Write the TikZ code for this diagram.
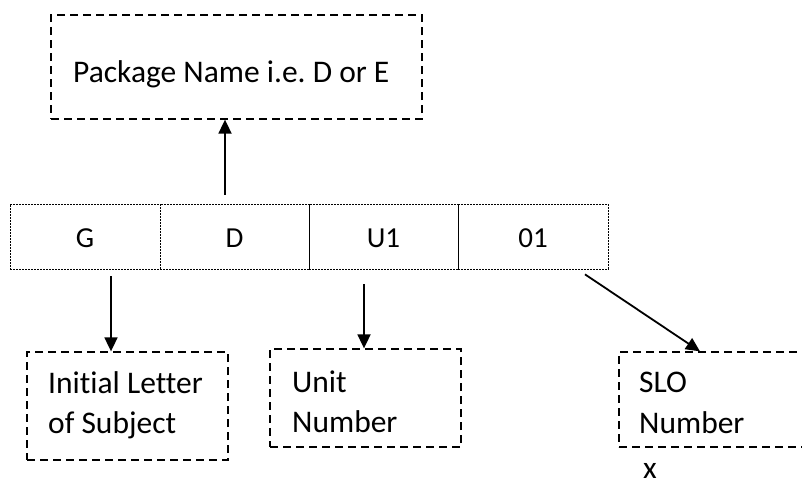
\documentclass[tikz,border=0pt]{standalone}
\usepackage{fontspec}
\setmainfont{Carlito}[Ligatures=NoCommon]
\usetikzlibrary{arrows.meta}
\frenchspacing
\begin{document}
\begin{tikzpicture}[x=1pt,y=-1pt]
\useasboundingbox (0,0) rectangle (802,479);
\clip (0,0) rectangle (802,479);
\tikzset{
 dbox/.style={draw, line width=1.3pt, dash pattern=on 8pt off 5pt, inner sep=0pt},
 cell/.style={draw, line width=0.7pt, dash pattern=on 2pt off 1pt, minimum height=65pt, inner sep=0pt, font=\fontsize{29}{34}\selectfont, text height=21pt, text depth=0pt},
 arr/.style={line width=1.8pt, -{Triangle[width=13pt,length=14pt]}},
 lbl/.style={inner sep=0pt, anchor=base west, font=\fontsize{31.5}{38}\selectfont}
}
% boxes
\node[dbox, minimum width=371pt, minimum height=104pt] (pkg) at (236.5,67) {};
\node[cell, minimum width=150pt] (cG) at (85,236.5) {G};
\node[cell, minimum width=149pt] (cD) at (234.5,236.5) {D};
\node[cell, minimum width=149pt] (cU) at (383.5,236.5) {U1};
\node[cell, minimum width=150pt] (cN) at (533,236.5) {01};
\node[dbox, minimum width=201pt, minimum height=108pt] (b1) at (127.5,406) {};
\node[dbox, minimum width=191pt, minimum height=98pt] (b2) at (365.5,398) {};
\node[dbox, minimum width=191pt, minimum height=95pt] (b3) at (714.5,399.5) {};
% texts
\node[lbl] (tpkg) at (73,82) {Package Name i.e. D or E};
\node[lbl] (t1a) at (48,393) {Initial Letter};
\node[lbl] (t1b) at (48,433) {of Subject};
\node[lbl] (t2a) at (292,392) {Unit};
\node[lbl] (t2b) at (292,432) {Number};
\node[lbl] (t3a) at (639,392) {SLO};
\node[lbl] (t3b) at (639,433) {Number};
\node[lbl] (xl) at (643,478) {x};
% arrows
\draw[arr] ([xshift=-9.5pt,yshift=9pt]cD.north) -- ([xshift=-11.5pt]pkg.south);
\draw[arr] ([xshift=26pt,yshift=-7pt]cG.south) -- ([xshift=-16.5pt]b1.north);
\draw[arr] ([xshift=-19.5pt,yshift=-15pt]cU.south) -- ([xshift=-1.5pt]b2.north);
\draw[arr] ([xshift=52pt,yshift=-5pt]cN.south) -- ([xshift=-14.5pt]b3.north);
\end{tikzpicture}
\end{document}
